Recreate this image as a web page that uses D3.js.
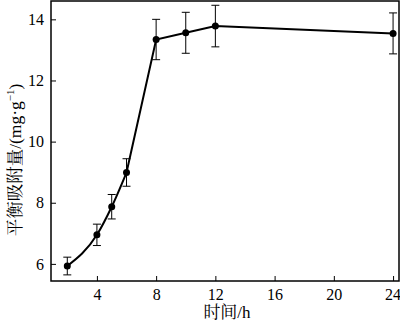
<!DOCTYPE html>
<html><head><meta charset="utf-8">
<script src="https://cdn.jsdelivr.net/npm/d3@7/dist/d3.min.js"></script>
<style>body{margin:0;background:#fff}svg{display:block}</style>
</head><body>
<svg id="c" width="400" height="323"></svg>
<script>
const times = [2, 4, 5, 6, 8, 10, 12, 24];
const adsorption = [5.93, 6.95, 7.87, 8.99, 13.34, 13.56, 13.78, 13.54];
const errors = [0.29, 0.35, 0.40, 0.45, 0.66, 0.67, 0.68, 0.67];
const xTicks = [4, 8, 12, 16, 20, 24];
const yTicks = [6, 8, 10, 12, 14];

const svg = d3.select("#c");
const L = 51, R = 399, T = 1, B = 281;
const x = d3.scaleLinear().domain([0.9, 24.4]).range([L, R]);
const y = d3.scaleLinear().domain([5.44, 14.6]).range([B, T]);
const font = "'Liberation Serif','Times New Roman',serif";
const cjk = "'Liberation Serif','Noto Serif CJK SC','Noto Sans CJK SC',serif";

// frame
svg.append("rect").attr("x", L).attr("y", T).attr("width", R - L).attr("height", B - T)
  .attr("fill", "none").attr("stroke", "#000").attr("stroke-width", 1.5);

const xAxis = svg.append("g").attr("transform", `translate(0,${B})`)
  .call(d3.axisBottom(x).tickValues(xTicks).tickSizeInner(-5).tickSizeOuter(0).tickPadding(8));
const yAxis = svg.append("g").attr("transform", `translate(${L},0)`)
  .call(d3.axisLeft(y).tickValues(yTicks).tickSizeInner(-5).tickSizeOuter(0).tickPadding(7));
[xAxis, yAxis].forEach(g => {
  g.select(".domain").remove();
  g.selectAll("line").attr("stroke", "#000").attr("stroke-width", 1);
  g.selectAll("text").attr("font-family", font).attr("font-size", 16).attr("fill", "#000");
});
xAxis.selectAll("text").filter(d => d === 24).attr("text-anchor", "end").attr("dx", 7.5);

const pts = times.map((t, i) => ({t, v: adsorption[i], e: errors[i]}));
// smooth early part, straight afterwards
const curvePart = pts.slice(0, 4);
const linePart = pts.slice(3);
svg.append("path").attr("d", d3.line().x(d => x(d.t)).y(d => y(d.v)).curve(d3.curveMonotoneX)(curvePart))
  .attr("fill", "none").attr("stroke", "#000").attr("stroke-width", 2);
svg.append("path").attr("d", d3.line().x(d => x(d.t)).y(d => y(d.v))(linePart))
  .attr("fill", "none").attr("stroke", "#000").attr("stroke-width", 2);

const eb = svg.append("g").attr("stroke", "#000").attr("stroke-width", 1);
pts.forEach(d => {
  const cx = x(d.t);
  eb.append("line").attr("x1", cx).attr("x2", cx).attr("y1", y(d.v + d.e)).attr("y2", y(d.v - d.e));
  eb.append("line").attr("x1", cx - 4).attr("x2", cx + 4).attr("y1", y(d.v + d.e)).attr("y2", y(d.v + d.e));
  eb.append("line").attr("x1", cx - 4).attr("x2", cx + 4).attr("y1", y(d.v - d.e)).attr("y2", y(d.v - d.e));
});
svg.append("g").selectAll("circle").data(pts).join("circle")
  .attr("cx", d => x(d.t)).attr("cy", d => y(d.v)).attr("r", 3.5).attr("fill", "#000");

svg.append("text").attr("x", 227).attr("y", 318).attr("text-anchor", "middle")
  .attr("font-family", cjk).attr("font-size", 17).text("时间/h");

const yl = svg.append("text").attr("transform", "translate(21,160) rotate(-90)")
  .attr("text-anchor", "middle").attr("font-family", cjk).attr("font-size", 17.5);
yl.append("tspan").text("平衡吸附量/(mg·g");
yl.append("tspan").attr("dy", -7).attr("font-size", 11).text("−1");
yl.append("tspan").attr("dy", 7).text(")");
</script>
</body></html>
